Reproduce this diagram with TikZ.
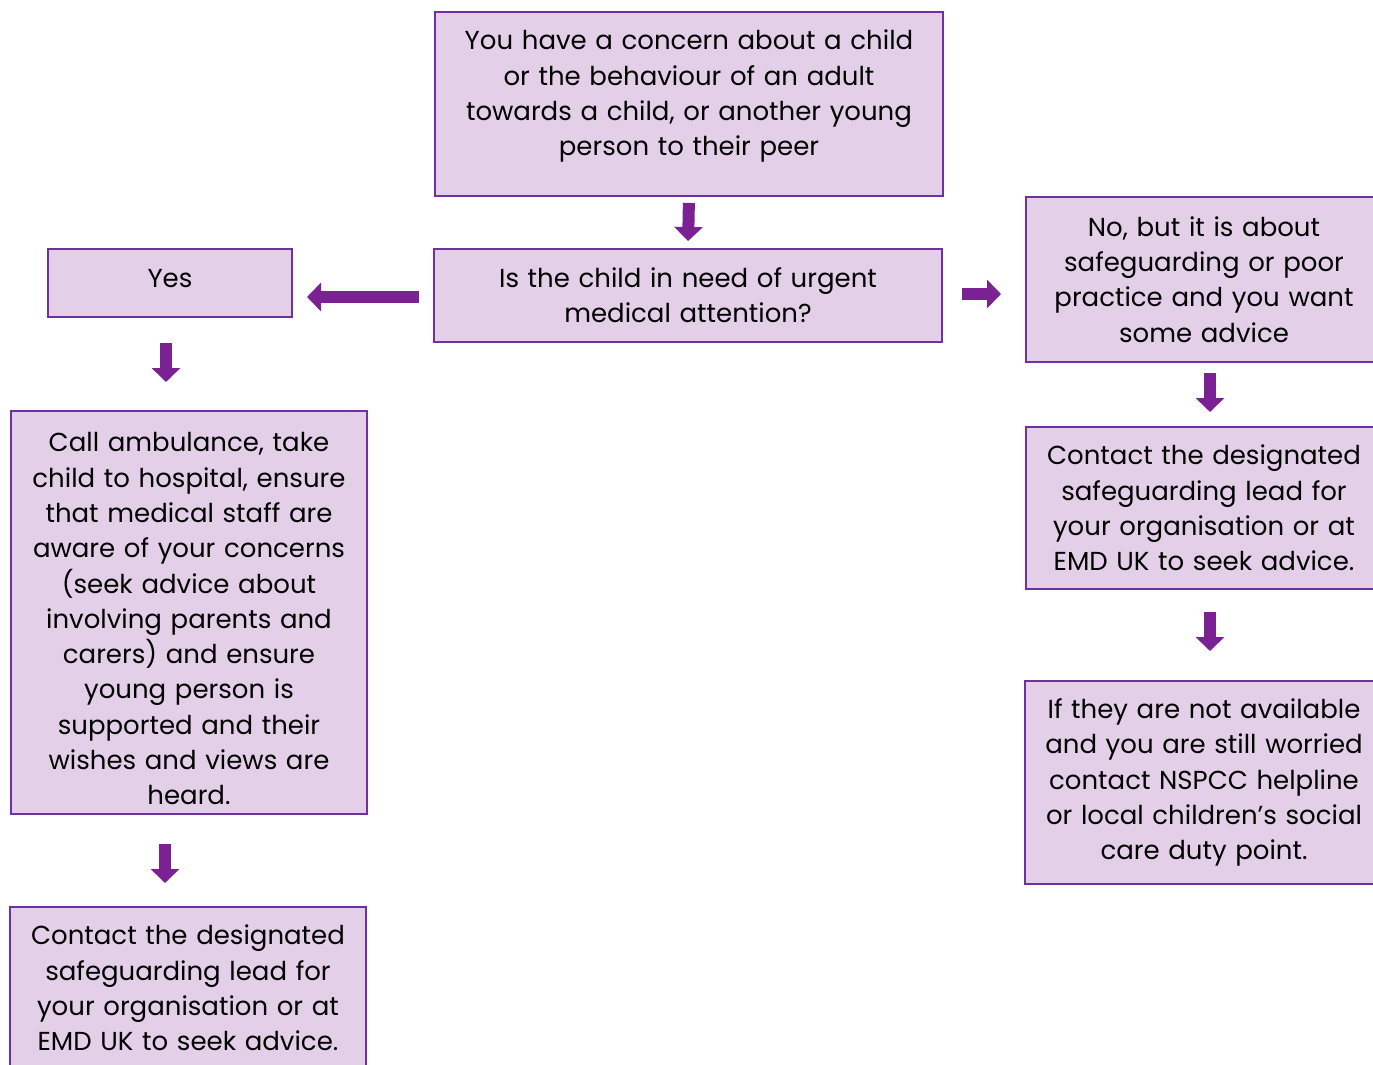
\documentclass[tikz,border=0pt]{standalone}
\usepackage{fontspec}
\setmainfont{Poppins}
\usetikzlibrary{arrows.meta}
\definecolor{boxfill}{HTML}{E3D0E8}
\definecolor{boxline}{HTML}{7030A0}
\definecolor{arrowpurple}{HTML}{7A2294}
\begin{document}
\begin{tikzpicture}[x=1pt,y=-1pt,
    box/.style={draw=boxline, fill=boxfill, line width=2pt, inner sep=0pt, align=center,
      font=\fontsize{26}{35.3}\selectfont},
    flow/.style={draw=arrowpurple, line width=12pt, -{Triangle[width=28pt,length=14pt]}}]
      \clip (0,0) rectangle (1373,1065);
      \node[box, minimum width=508pt, minimum height=184pt, text width=500pt] (concern) at (689,104)
        {You have a concern about a child\\ or the behaviour of an adult\\ towards a child, or another young\\ person to their peer\rule[-22pt]{0pt}{22pt}};
      \node[box, minimum width=508pt, minimum height=93pt, text width=500pt] (urgent) at (688,295.5)
        {Is the child in need of urgent\\ medical attention?};
      \node[box, minimum width=244pt, minimum height=68pt, text width=236pt] (yes) at (170,283)
        {Yes\rule[-10pt]{0pt}{10pt}};
      \node[box, minimum width=356pt, minimum height=403pt, text width=350pt] (ambulance) at (189,612.5)
        {\rule{0pt}{32pt}Call ambulance, take\\ child to hospital, ensure\\ that medical staff are\\ aware of your concerns\\ (seek advice about\\ involving parents and\\ carers) and ensure\\ young person is\\ supported and their\\ wishes and views are\\ heard.};
      \node[box, minimum width=356pt, minimum height=162pt, text width=350pt] (leadleft) at (188,988)
        {Contact the designated\\ safeguarding lead for\\ your organisation or at\\ EMD UK to seek advice.};
      \node[box, minimum width=356pt, minimum height=165pt, text width=350pt] (noadvice) at (1204,279.5)
        {No, but it is about\\ safeguarding or poor\\ practice and you want\\ some advice};
      \node[box, minimum width=356pt, minimum height=162pt, text width=350pt] (leadright) at (1204,508)
        {Contact the designated\\ safeguarding lead for\\ your organisation or at\\ EMD UK to seek advice.};
      \node[box, minimum width=358pt, minimum height=203pt, text width=350pt] (nspcc) at (1204,782.5)
        {If they are not available\\ and you are still worried\\ contact NSPCC helpline\\ or local children’s social\\ care duty point.};
      \draw[flow, shorten <=6pt, shorten >=7pt] (concern.south) -- (urgent.north);
      \draw[flow, shorten <=14pt, shorten >=14pt] ([yshift=-1.5pt]urgent.west) -- ([yshift=-1.5pt]urgent.west -| yes.east);
      \draw[flow, shorten <=19pt, shorten >=24pt] ([yshift=1.5pt]urgent.east) -- ([yshift=1.5pt]urgent.east -| noadvice.west);
      \draw[flow, shorten <=25pt, shorten >=28pt] ([xshift=-4pt]yes.south) -- ([xshift=-4pt]yes.south |- ambulance.north);
      \draw[flow, shorten <=29pt, shorten >=23pt] ([xshift=-5pt]yes.south |- ambulance.south) -- ([xshift=-5pt]yes.south |- leadleft.north);
      \draw[flow, shorten <=10pt, shorten >=14pt] ([xshift=6pt]noadvice.south) -- ([xshift=6pt]noadvice.south |- leadright.north);
      \draw[flow, shorten <=22pt, shorten >=29pt] ([xshift=6pt]leadright.south) -- ([xshift=6pt]leadright.south |- nspcc.north);
\end{tikzpicture}
\end{document}
